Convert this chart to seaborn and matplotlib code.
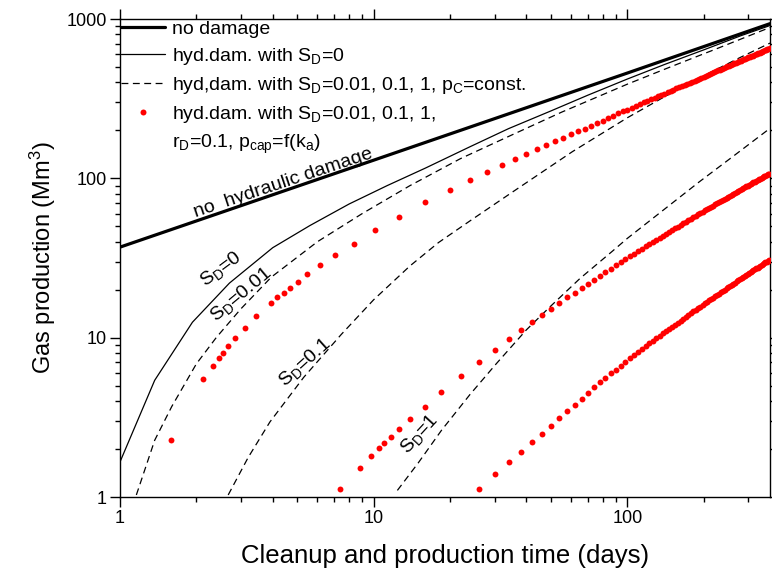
import matplotlib
matplotlib.use("Agg")
import matplotlib.pyplot as plt
from matplotlib.lines import Line2D
from matplotlib.ticker import FixedLocator, LogLocator, NullFormatter, FixedFormatter
import seaborn as sns

# ---------------- data ----------------
# reference line without any damage
nodmg_t = [1.0, 10.0, 100.0, 365.0]
nodmg_q = [37.0, 130.0, 458.0, 935.0]

# hydraulic damage, S_D = 0
sd0_t = [1.0, 1.37, 1.93, 2.7, 4.0, 5.6, 8.0, 11.3, 16, 24, 34, 50, 70, 100, 140, 200, 280, 365]
sd0_q = [1.66, 5.4, 12.5, 22.0, 36.7, 50.5, 69, 90, 116, 158, 205, 265, 333, 420, 518, 640, 785, 910]

# hydraulic damage, constant capillary pressure
pc001_t = [1.16, 1.37, 1.6, 2.0, 2.4, 3.0, 3.95, 6, 9, 13.9, 22, 35, 55, 100, 150, 230, 365]
pc001_q = [1.03, 2.27, 3.7, 6.85, 10.05, 15.2, 24, 40, 60, 90, 133, 187, 260, 390, 505, 660, 885]

pc01_t = [2.67, 3.2, 3.9, 5.3, 7.46, 10, 13.9, 18, 23.9, 35, 60.7, 100, 140, 200, 280, 365]
pc01_q = [1.03, 1.77, 2.96, 5.64, 10.5, 17.3, 28.2, 39.5, 53.9, 81.4, 147, 240, 325, 440, 576, 706]

pc1_t = [12.4, 15, 18.5, 24, 30.4, 40, 49.3, 65, 87.5, 100, 140, 192, 260, 365]
pc1_q = [1.1, 1.64, 2.62, 4.41, 6.85, 11.2, 15.5, 23.5, 35, 42, 64, 95, 136.7, 206]

# hydraulic damage with r_D = 0.1 and p_cap = f(k_a)
cap001_t = [1.59, 2.13, 2.32, 2.45, 2.54, 2.67, 2.85, 3.10, 3.45, 3.93,
            4.14, 4.42, 4.67, 5.01, 5.46, 6.13, 7.07, 8.34, 10.1, 12.6,
            16, 20, 24, 28, 32, 36, 40, 44, 48, 52,
            56, 60, 64, 68, 72, 76, 80, 84, 88, 92,
            96, 100, 104, 108, 112, 116, 120, 124, 128, 132,
            136, 140, 144, 148, 152, 156, 160, 164, 168, 172,
            176, 180, 184, 188, 192, 196, 200, 204, 208, 212,
            216, 220, 224, 228, 232, 236, 240, 244, 248, 252,
            256, 260, 264, 268, 272, 276, 280, 284, 288, 292,
            296, 300, 304, 308, 312, 316, 320, 324, 328, 332,
            336, 340, 344, 348, 352, 356, 360, 364]
cap001_q = [2.29, 5.52, 6.68, 7.5, 8.06, 8.88, 10.0, 11.55, 13.7, 16.6,
            17.9, 19.0, 20.6, 22.4, 25.0, 28.5, 33.0, 38.8, 47.1, 57.3,
            70.8, 84.5, 97.2, 109, 121, 132, 142, 152, 161, 172,
            180, 189, 197, 205, 213, 222, 230, 239, 247.7, 255.4,
            263.0, 270.4, 277.8, 285.0, 292.3, 299.4, 306.4, 313.4, 320.3, 327.1,
            333.9, 340.6, 347.2, 353.8, 360.3, 366.8, 373.2, 379.6, 385.9, 392.2,
            398.4, 404.6, 410.7, 416.8, 422.8, 428.8, 434.8, 440.7, 446.6, 452.5,
            458.3, 464.1, 469.8, 475.5, 481.2, 486.9, 492.5, 498.1, 503.7, 509.3,
            514.8, 520.3, 525.8, 531.2, 536.6, 542.0, 547.4, 552.8, 558.1, 563.4,
            568.6, 573.9, 579.1, 584.3, 589.5, 594.7, 599.8, 604.9, 610.0, 615.1,
            620.2, 625.2, 630.3, 635.3, 640.3, 645.3, 650.2, 655.2]

cap01_t = [7.39, 8.83, 9.79, 10.5, 10.98, 11.67, 12.58, 13.95, 15.9, 18.5,
           22, 26, 30, 34, 38, 42, 46, 50, 54, 58,
           62, 66, 70, 74, 78, 82, 86, 90, 94, 98,
           102, 106, 110, 114, 118, 122, 126, 130, 134, 138,
           142, 146, 150, 154, 158, 162, 166, 170, 174, 178,
           182, 186, 190, 194, 198, 202, 206, 210, 214, 218,
           222, 226, 230, 234, 238, 242, 246, 250, 254, 258,
           262, 266, 270, 274, 278, 282, 286, 290, 294, 298,
           302, 306, 310, 314, 318, 322, 326, 330, 334, 338,
           342, 346, 350, 354, 358, 362]
cap01_q = [1.12, 1.52, 1.81, 2.02, 2.17, 2.38, 2.67, 3.09, 3.69, 4.55,
           5.76, 7.08, 8.41, 9.81, 11.1, 12.5, 13.9, 15.1, 16.5, 17.9,
           19.1, 20.4, 21.8, 23.0, 24.4, 25.7, 26.9, 28.5, 29.7, 31.0,
           32.4, 33.66, 34.92, 36.18, 37.44, 38.69, 39.93, 41.18, 42.42, 43.64,
           44.87, 46.10, 47.31, 48.53, 49.74, 50.95, 52.15, 53.35, 54.55, 55.75,
           56.94, 58.13, 59.31, 60.49, 61.66, 62.83, 64.0, 65.16, 66.32, 67.48,
           68.64, 69.79, 70.94, 72.09, 73.23, 74.37, 75.51, 76.64, 77.77, 78.89,
           80.01, 81.13, 82.24, 83.35, 84.46, 85.56, 86.67, 87.77, 88.87, 89.95,
           91.05, 92.14, 93.23, 94.32, 95.39, 96.52, 97.58, 98.67, 99.75, 100.8,
           101.9, 103.0, 104.0, 105.1, 106.1, 107.2]

cap1_t = [26, 30, 34, 38, 42, 46, 50, 54, 58, 62,
          66, 70, 74, 78, 82, 86, 90, 94, 98, 102,
          106, 110, 114, 118, 122, 126, 130, 134, 138, 142,
          146, 150, 154, 158, 162, 166, 170, 174, 178, 182,
          186, 190, 194, 198, 202, 206, 210, 214, 218, 222,
          226, 230, 234, 238, 242, 246, 250, 254, 258, 262,
          266, 270, 274, 278, 282, 286, 290, 294, 298, 302,
          306, 310, 314, 318, 322, 326, 330, 334, 338, 342,
          346, 350, 354, 358, 362]
cap1_q = [1.13, 1.39, 1.66, 1.93, 2.22, 2.50, 2.81, 3.12, 3.45, 3.79,
          4.14, 4.49, 4.87, 5.24, 5.57, 5.96, 6.31, 6.68, 7.05, 7.42,
          7.80, 8.17, 8.52, 8.875, 9.229, 9.582, 9.94, 10.29, 10.65, 11.01,
          11.36, 11.72, 12.08, 12.44, 12.80, 13.16, 13.52, 13.88, 14.24, 14.60,
          14.96, 15.32, 15.68, 16.04, 16.40, 16.76, 17.13, 17.49, 17.85, 18.21,
          18.57, 18.92, 19.29, 19.65, 20.01, 20.37, 20.73, 21.09, 21.45, 21.81,
          22.17, 22.53, 22.89, 23.25, 23.61, 23.96, 24.32, 24.68, 25.03, 25.39,
          25.75, 26.11, 26.46, 26.82, 27.18, 27.54, 27.89, 28.25, 28.60, 28.96,
          29.32, 29.67, 30.03, 30.38, 30.74]

x_ticks = [1, 10, 100]
x_tick_labels = ["1", "10", "100"]
y_ticks = [1, 10, 100, 1000]
y_tick_labels = ["1", "10", "100", "1000"]

# ---------------- style ----------------
sns.set_theme(style="ticks")
plt.rcParams["font.family"] = ["Liberation Sans", "DejaVu Sans"]
plt.rcParams["mathtext.fontset"] = "custom"
plt.rcParams["mathtext.rm"] = "Liberation Sans"
plt.rcParams["mathtext.it"] = "Liberation Sans:italic"
plt.rcParams["mathtext.bf"] = "Liberation Sans:bold"
plt.rcParams["text.color"] = "black"
plt.rcParams["axes.labelcolor"] = "black"
plt.rcParams["xtick.color"] = "black"
plt.rcParams["ytick.color"] = "black"
plt.rcParams["axes.edgecolor"] = "black"

fig = plt.figure(figsize=(7.72, 5.80), dpi=100)
ax = fig.add_axes([120 / 772, 83 / 580, 650 / 772, 478 / 580])

DASH = (0, (5.5, 3.6))
FS = 14

sns.lineplot(x=nodmg_t, y=nodmg_q, ax=ax, color="black", linewidth=2.3,
             estimator=None, sort=False, legend=False)
sns.lineplot(x=sd0_t, y=sd0_q, ax=ax, color="black", linewidth=0.9,
             estimator=None, sort=False, legend=False)
for t, q in [(pc001_t, pc001_q), (pc01_t, pc01_q), (pc1_t, pc1_q)]:
    sns.lineplot(x=t, y=q, ax=ax, color="black", linewidth=0.9, linestyle=DASH,
                 estimator=None, sort=False, legend=False)
for t, q in [(cap001_t, cap001_q), (cap01_t, cap01_q), (cap1_t, cap1_q)]:
    sns.scatterplot(x=t, y=q, ax=ax, color="#ff0000", s=18, linewidth=0,
                    zorder=3, legend=False)

ax.set_xscale("log")
ax.set_yscale("log")
ax.set_xlim(1, 365)
ax.set_ylim(1, 1000)

ax.xaxis.set_major_locator(FixedLocator(x_ticks))
ax.xaxis.set_major_formatter(FixedFormatter(x_tick_labels))
ax.xaxis.set_minor_locator(LogLocator(base=10, subs=range(2, 10)))
ax.xaxis.set_minor_formatter(NullFormatter())
ax.yaxis.set_major_locator(FixedLocator(y_ticks))
ax.yaxis.set_major_formatter(FixedFormatter(y_tick_labels))
ax.yaxis.set_minor_locator(LogLocator(base=10, subs=range(2, 10)))
ax.yaxis.set_minor_formatter(NullFormatter())

ax.tick_params(which="both", direction="out", top=True, right=True,
               labeltop=False, labelright=False, color="black",
               labelcolor="black", width=1.0)
ax.tick_params(which="major", length=7.2, labelsize=13, pad=2.5)
ax.tick_params(which="minor", length=3.6)
for s in ax.spines.values():
    s.set_color("black")
    s.set_linewidth(1.0)

ax.set_xlabel("Cleanup and production time (days)", fontsize=18.5, labelpad=12,
              color="black")
ax.set_ylabel("Gas production (Mm$^{3}$)", fontsize=17, labelpad=6, color="black")

# curve annotations
ax.text(4.39, 93.5, "no  hydraulic damage", rotation=18.5, fontsize=FS,
        ha="center", va="center", rotation_mode="anchor")
ax.text(2.51, 26.9, "S$_\\mathrm{D}$=0", rotation=36.5, fontsize=FS,
        ha="center", va="center", rotation_mode="anchor")
ax.text(3.0, 18.6, "S$_\\mathrm{D}$=0.01", rotation=40, fontsize=FS,
        ha="center", va="center", rotation_mode="anchor")
ax.text(5.35, 7.0, "S$_\\mathrm{D}$=0.1", rotation=42, fontsize=FS,
        ha="center", va="center", rotation_mode="anchor")
ax.text(15.2, 2.5, "S$_\\mathrm{D}$=1", rotation=47.5, fontsize=FS,
        ha="center", va="center", rotation_mode="anchor")

# legend
handles = [
    Line2D([], [], color="black", linewidth=2.3),
    Line2D([], [], color="black", linewidth=0.9),
    Line2D([], [], color="black", linewidth=0.9, linestyle=DASH),
    Line2D([], [], color="#ff0000", linestyle="none", marker="o", markersize=4.3,
           markeredgewidth=0),
    Line2D([], [], linestyle="none"),
]
labels = [
    "no damage",
    "hyd.dam. with S$_\\mathrm{D}$=0",
    "hyd,dam. with S$_\\mathrm{D}$=0.01, 0.1, 1, p$_\\mathrm{C}$=const.",
    "hyd.dam. with S$_\\mathrm{D}$=0.01, 0.1, 1,",
    "r$_\\mathrm{D}$=0.1, p$_\\mathrm{cap}$=f(k$_\\mathrm{a}$)",
]
ax.legend(handles, labels, loc="upper left", bbox_to_anchor=(0.0, 1.0),
          frameon=False, fontsize=FS, handlelength=2.25, handletextpad=0.35,
          borderaxespad=0.0, borderpad=0.05, labelspacing=0.42)

fig.savefig("out.png", dpi=100)
